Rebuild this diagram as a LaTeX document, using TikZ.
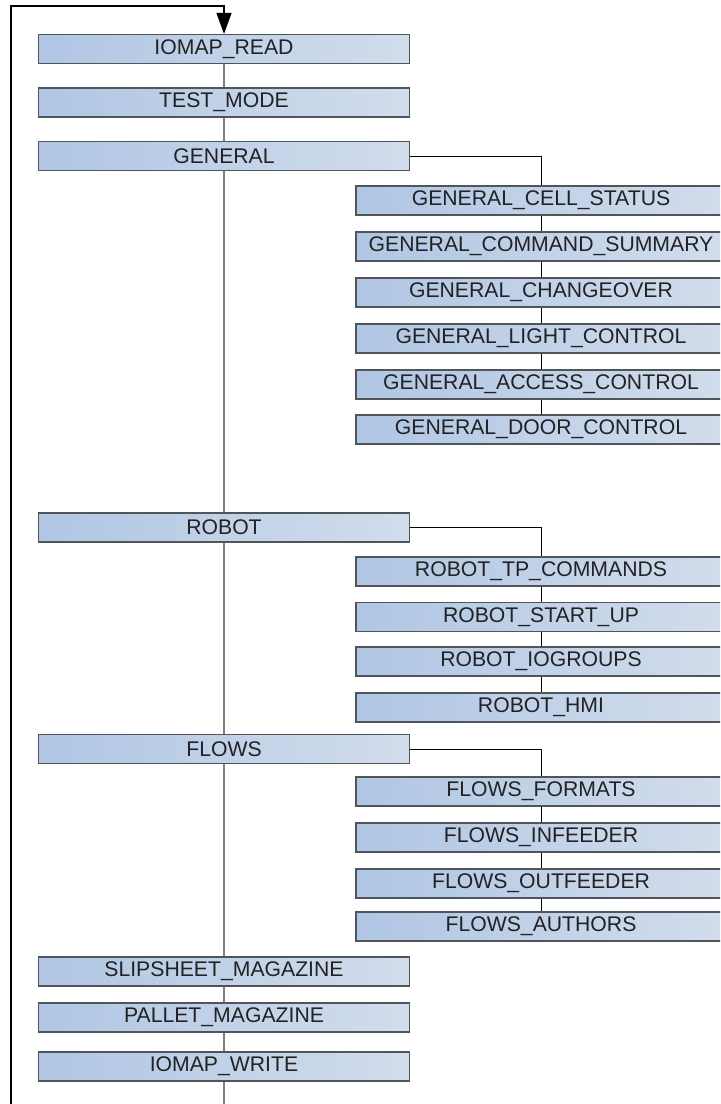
\documentclass[tikz,border=0pt]{standalone}
\usepackage{fontspec}
\setmainfont{Liberation Sans}
\usetikzlibrary{arrows.meta}
\definecolor{boxL}{HTML}{B0C6E4}
\definecolor{boxR}{HTML}{D2DDEC}
\definecolor{boxB}{HTML}{50555A}
\definecolor{txt}{HTML}{222222}
\definecolor{trunk}{HTML}{808080}
\tikzset{
  stage/.style={draw=boxB, line width=0.6pt, left color=boxL, right color=boxR,
    minimum width=185.5pt, minimum height=14.5pt, inner sep=0pt,
    text=txt, font=\fontsize{10.6pt}{12pt}\selectfont},
  substage/.style={stage, minimum width=185pt},
  trunkline/.style={draw=trunk, line width=0.7pt},
  branchline/.style={draw=black, line width=0.5pt},
  loopline/.style={draw=black, line width=0.65pt}
}
\begin{document}
\begin{tikzpicture}[x=0.5pt,y=-0.5pt]
\useasboundingbox (0,0) rectangle (720,1104);
\clip (0,0) rectangle (720,1104);
% main column
\node[stage] (read)  at (224,49)   {IOMAP\_READ};
\node[stage] (test)  at (224,102.5) {TEST\_MODE};
\node[stage] (gen)   at (224,156)  {GENERAL};
\node[stage] (rob)   at (224,527.5) {ROBOT};
\node[stage] (flo)   at (224,749)  {FLOWS};
\node[stage] (slip)  at (224,971.5) {SLIPSHEET\_MAGAZINE};
\node[stage] (pal)   at (224,1017.5) {PALLET\_MAGAZINE};
\node[stage] (wri)   at (224,1066.5) {IOMAP\_WRITE};
% general children
\node[substage] (g1) at (541,200.5) {GENERAL\_CELL\_STATUS};
\node[substage] (g2) at (541,246.5) {GENERAL\_COMMAND\_SUMMARY};
\node[substage] (g3) at (541,292.5) {GENERAL\_CHANGEOVER};
\node[substage] (g4) at (541,338.5) {GENERAL\_LIGHT\_CONTROL};
\node[substage] (g5) at (541,384.5) {GENERAL\_ACCESS\_CONTROL};
\node[substage] (g6) at (541,429.5) {GENERAL\_DOOR\_CONTROL};
% robot children
\node[substage] (r1) at (541,571.5) {ROBOT\_TP\_COMMANDS};
\node[substage] (r2) at (541,617) {ROBOT\_START\_UP};
\node[substage] (r3) at (541,661.5) {ROBOT\_IOGROUPS};
\node[substage] (r4) at (541,707.5) {ROBOT\_HMI};
% flows children
\node[substage] (f1) at (541,791.5) {FLOWS\_FORMATS};
\node[substage] (f2) at (541,837.5) {FLOWS\_INFEEDER};
\node[substage] (f3) at (541,883.5) {FLOWS\_OUTFEEDER};
\node[substage] (f4) at (541,926.5) {FLOWS\_AUTHORS};
% free ends
\coordinate (tend) at (224,1104);
\coordinate (lb) at (11,1104);
\coordinate (lt) at (11,6);
\coordinate (tt) at (224,6);
% trunk
\draw[trunkline] (read) -- (test);
\draw[trunkline] (test) -- (gen);
\draw[trunkline] (gen) -- (rob);
\draw[trunkline] (rob) -- (flo);
\draw[trunkline] (flo) -- (slip);
\draw[trunkline] (slip) -- (pal);
\draw[trunkline] (pal) -- (wri);
\draw[trunkline] (wri) -- (tend);
% loop back
\draw[loopline, -{Triangle[length=10.5pt,width=7.5pt]}] (lb) -- (lt) -- (tt) -- (read.north);
% branches
\draw[branchline] (gen.east) -| (g1.north);
\draw[branchline] (g1) -- (g2);
\draw[branchline] (g2) -- (g3);
\draw[branchline] (g3) -- (g4);
\draw[branchline] (g4) -- (g5);
\draw[branchline] (g5) -- (g6);
\draw[branchline] (rob.east) -| (r1.north);
\draw[branchline] (r1) -- (r2);
\draw[branchline] (r2) -- (r3);
\draw[branchline] (r3) -- (r4);
\draw[branchline] (flo.east) -| (f1.north);
\draw[branchline] (f1) -- (f2);
\draw[branchline] (f2) -- (f3);
\draw[branchline] (f3) -- (f4);
\end{tikzpicture}
\end{document}
